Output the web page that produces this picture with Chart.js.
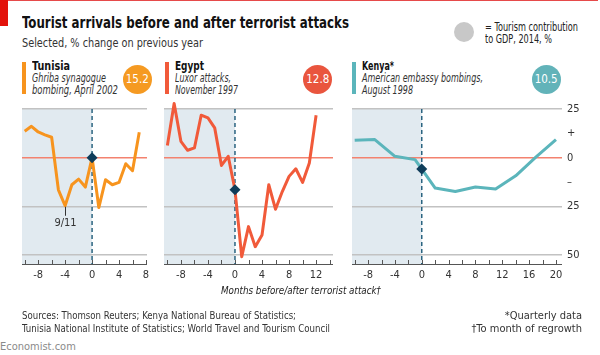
<!DOCTYPE html>
<html><head><meta charset="utf-8">
<script src="https://cdn.jsdelivr.net/npm/chart.js@4/dist/chart.umd.min.js"></script>
<style>
html,body{margin:0;padding:0;width:600px;height:355px;overflow:hidden;background:#fff;}
body{position:relative;font-family:"Liberation Sans Narrow","DejaVu Sans Condensed",Roboto,sans-serif;color:#1a1a1a;}
.t{position:absolute;white-space:nowrap;line-height:1;transform-origin:0 0;}
.r{transform-origin:100% 0;}
canvas{position:absolute;}
.bar{position:absolute;width:4px;}
.dot{position:absolute;border-radius:50%;color:#fff;font-size:11.5px;text-align:center;}
</style></head>
<body>
<div style="position:absolute;left:0;top:0;width:598px;height:1px;background:#e64a4a"></div>
<div style="position:absolute;left:0;top:0;width:8px;height:26px;background:#e3120b"></div>
<div class="t" data-w="327" style="left:22px;top:16px;font-size:15.5px;font-weight:bold;color:#111">Tourist arrivals before and after terrorist attacks</div>
<div class="t" data-w="181" style="left:22px;top:37px;font-size:12px;color:#333">Selected, % change on previous year</div>
<div class="dot" style="left:454px;top:21.5px;width:20px;height:20px;background:#c8c8c8"></div>
<div class="t" data-w="93" style="left:485px;top:21px;font-size:12.5px;color:#222">= Tourism contribution</div>
<div class="t" data-w="67" style="left:485px;top:33px;font-size:12.5px;color:#222">to GDP, 2014, %</div>

<div id="headers"></div>

<canvas id="c0" width="145" height="191" style="left:12px;top:95px"></canvas>
<canvas id="c1" width="189" height="191" style="left:154px;top:95px"></canvas>
<canvas id="c2" width="258" height="191" style="left:342px;top:95px"></canvas>

<div class="t" id="xl" data-w="160" style="left:221px;top:285px;font-size:11px;font-style:italic;color:#222">Months before/after terrorist attack†</div>
<div class="t" data-w="274" style="left:22px;top:310px;font-size:11px;color:#333">Sources: Thomson Reuters; Kenya National Bureau of Statistics;</div>
<div class="t" data-w="308" style="left:22px;top:323px;font-size:11px;color:#333">Tunisia National Institute of Statistics; World Travel and Tourism Council</div>
<div class="t r" style="right:18px;top:310px;font-size:11px;color:#333">*Quarterly data</div>
<div class="t r" style="right:18px;top:323px;font-size:11px;color:#333">†To month of regrowth</div>
<div class="t" style="left:0px;top:341px;font-size:11px;color:#8a8a8a">Economist.com</div>

<script>
// ---------- data ----------
const countries = ['Tunisia', 'Egypt', 'Kenya*'];
const attackLine1 = ['Ghriba synagogue', 'Luxor attacks,', 'American embassy bombings,'];
const attackLine2 = ['bombing, April 2002', 'November 1997', 'August 1998'];
const gdpShare = [15.2, 12.8, 10.5];

const tunisiaMonths = [-10,-9,-8,-7,-6,-5,-4,-3,-2,-1,0,1,2,3,4,5,6,7];
const tunisiaValues = [13.6,16.1,13.2,11.7,10.5,-16.5,-24.7,-13.9,-11.0,-15.1,0.0,-25.6,-11.3,-13.9,-12.7,-3.1,-6.7,13.1];

const egyptMonths = [-10,-9,-8,-7,-6,-5,-4,-3,-2,-1,0,1,2,3,4,5,6,7,8,9,10,11,12];
const egyptValues = [6.2,27.8,8.4,3.8,5.0,21.8,20.4,15.3,-4.0,0.7,-16.5,-50.9,-35.4,-45.7,-39.7,-13.9,-26.5,-17.4,-9.6,-5.7,-12.7,-2.7,21.8];

const kenyaMonths = [-10,-7,-4,-1,2,5,8,11,14,17,20];
const kenyaValues = [8.9,9.3,0.7,-1.0,-15.6,-17.4,-15.1,-16.1,-9.3,0.3,9.3];
const kenyaAttackValue = [-5.8];

const tunisiaTicks = [-8,-4,0,4,8];
const egyptTicks = [-8,-4,0,4,8,12];
const kenyaTicks = [-8,-4,0,4,8,12,16,20];
const yGridValues = [25,0,-25,-50];
const yRightValues = [25,12.5,0,-12.5,-25,-50];
const yRightLabels = ['25','+','0','–','25','50'];
const noteTunisia = {month:-4, label:'9/11'};

// ---------- style ----------
const colors = ['#f7941e','#f15a3a','#5bb5bb'];
const dotColors = ['#f59a22','#e9553e','#62b3b9'];
const shade = '#e1eaf0';
const gridGray = '#c2c2c2';
const zeroRed = '#f3826f';
const navy = '#0f3d5a';

// headers
const hdr = document.getElementById('headers');
const hx = [22, 165, 352];
const dx = [137.3, 317.8, 546.2];
const nameW = [38, 29, 32];
const line1W = [74, 56, 121];
const line2W = [86, 63, 51];
for (let i = 0; i < 3; i++) {
  hdr.insertAdjacentHTML('beforeend',
    `<div class="bar" style="left:${hx[i]}px;top:62px;height:32px;background:${colors[i]}"></div>
     <div class="t" data-w="${nameW[i]}" style="left:${hx[i]+10}px;top:60px;font-size:12.5px;font-weight:bold;color:#111">${countries[i]}</div>
     <div class="t" data-w="${line1W[i]}" style="left:${hx[i]+10}px;top:72.5px;font-size:11.5px;font-style:italic;color:#333">${attackLine1[i]}</div>
     <div class="t" data-w="${line2W[i]}" style="left:${hx[i]+10}px;top:84.5px;font-size:11.5px;font-style:italic;color:#333">${attackLine2[i]}</div>
     <div class="dot" style="left:${dx[i]-14.5}px;top:65px;width:29px;height:29px;line-height:29px;background:${dotColors[i]}">${gdpShare[i]}</div>`);
}

// fit text widths
document.querySelectorAll('[data-w]').forEach(el => {
  const w = el.getBoundingClientRect().width;
  el.style.transform = 'scaleX(' + (+el.dataset.w / w) + ')';
});

// ---------- charts ----------
const panelPlugin = {
  id: 'panel',
  beforeDraw(chart) {
    const {ctx, chartArea: a, scales: {x}} = chart;
    const x0 = x.getPixelForValue(0);
    ctx.save();
    ctx.fillStyle = shade;
    ctx.fillRect(a.left, a.top, x0 - a.left, a.bottom - a.top);
    ctx.restore();
  },
  beforeDatasetsDraw(chart) {
    const {ctx, chartArea: a, scales: {x}} = chart;
    const x0 = x.getPixelForValue(0);
    ctx.save();
    ctx.strokeStyle = '#555'; ctx.lineWidth = 1;
    ctx.beginPath(); ctx.moveTo(a.left, a.bottom + 0.5); ctx.lineTo(a.right, a.bottom + 0.5); ctx.stroke();
    for (let m = Math.ceil(x.min / 2) * 2; m <= x.max; m += 2) {
      const px = Math.round(x.getPixelForValue(m)) + 0.5;
      ctx.beginPath(); ctx.moveTo(px, a.bottom); ctx.lineTo(px, a.bottom - 4); ctx.stroke();
    }
    ctx.strokeStyle = '#1d5a78'; ctx.lineWidth = 1.4; ctx.setLineDash([4, 3]);
    ctx.beginPath(); ctx.moveTo(x0, a.top); ctx.lineTo(x0, a.bottom); ctx.stroke();
    ctx.restore();
  },
  afterDatasetsDraw(chart, args, opts) {
    if (!opts || !opts.note) return;
    const {ctx, scales: {x, y}} = chart;
    const ds = chart.data.datasets[1].data;
    const pt = ds.find(p => p.x === opts.note.month);
    const px = Math.round(x.getPixelForValue(pt.x)) + 0.5;
    const py = y.getPixelForValue(pt.y);
    ctx.save();
    ctx.strokeStyle = '#333'; ctx.lineWidth = 1;
    ctx.beginPath(); ctx.moveTo(px, py + 1); ctx.lineTo(px, py + 10); ctx.stroke();
    ctx.fillStyle = '#333'; ctx.font = '11px "Liberation Sans Narrow", "DejaVu Sans Condensed", Roboto, sans-serif';
    ctx.textAlign = 'center'; ctx.textBaseline = 'top';
    ctx.fillText(opts.note.label, px, py + 12);
    ctx.restore();
  }
};

const tickFont = {size: 11, family: '"Liberation Sans Narrow", "DejaVu Sans Condensed", Roboto, sans-serif'};

function makeChart(id, months, values, attackVal, ticks, xmin, xmax, color, rightAxis, note) {
  const minorTicks = [];
  for (let m = Math.ceil(xmin / 2) * 2; m <= xmax; m += 2) minorTicks.push(m);
  const yScale = {
    min: -54.6, max: 25,
    afterBuildTicks: s => { s.ticks = (rightAxis ? yRightValues : yGridValues).map(v => ({value: v})); },
    grid: {
      drawTicks: false, lineWidth: 1.5,
      color: c => (c.tick.value === 0 ? zeroRed : (Math.abs(c.tick.value) === 12.5 ? 'rgba(0,0,0,0)' : gridGray))
    },
    border: {display: false}
  };
  if (rightAxis) {
    yScale.position = 'right';
    yScale.ticks = {display: true, padding: 5, color: '#333', font: tickFont,
      callback: v => yRightLabels[yRightValues.indexOf(v)]};
    yScale.afterFit = s => { s.width = 30; };
  } else {
    yScale.ticks = {display: false};
    yScale.afterFit = s => { s.width = 0; };
  }
  return new Chart(document.getElementById(id), {
    type: 'line',
    data: {
      datasets: [
        {data: [{x: 0, y: attackVal}], showLine: false, pointStyle: 'rectRot', pointRadius: 5.5,
         pointBackgroundColor: navy, pointBorderWidth: 0, order: 0, clip: false},
        {data: months.map((m, i) => ({x: m, y: values[i]})), borderColor: color, borderWidth: 3,
         pointRadius: 0, tension: 0, borderJoinStyle: 'round', borderCapStyle: 'butt', order: 1, clip: false}
      ]
    },
    options: {
      responsive: false, animation: false, devicePixelRatio: 1, events: [],
      layout: {padding: {left: 10, right: rightAxis ? 8 : 10, top: 14, bottom: 0}},
      plugins: {legend: {display: false}, tooltip: {enabled: false}, panel: {note: note}},
      scales: {
        x: {
          type: 'linear', min: xmin, max: xmax,
          afterBuildTicks: s => { s.ticks = minorTicks.map(v => ({value: v})); },
          ticks: {autoSkip: false, maxRotation: 0, padding: 5, color: '#333', font: tickFont,
            callback: v => (ticks.includes(v) ? String(v) : '')},
          grid: {display: false, drawTicks: false}, border: {display: false},
          afterFit: s => { s.height = 22; }
        },
        y: yScale
      }
    },
    plugins: [panelPlugin]
  });
}

const tunisiaAttack = tunisiaValues[tunisiaMonths.indexOf(0)];
const egyptAttack = egyptValues[egyptMonths.indexOf(0)];
makeChart('c0', tunisiaMonths, tunisiaValues, tunisiaAttack, tunisiaTicks, -10.4, 8.15, colors[0], false, noteTunisia);
makeChart('c1', egyptMonths, egyptValues, egyptAttack, egyptTicks, -10.5, 14.5, colors[1], false, null);
makeChart('c2', kenyaMonths, kenyaValues, kenyaAttackValue[0], kenyaTicks, -10.4, 20.9, colors[2], true, null);
</script>
</body></html>
